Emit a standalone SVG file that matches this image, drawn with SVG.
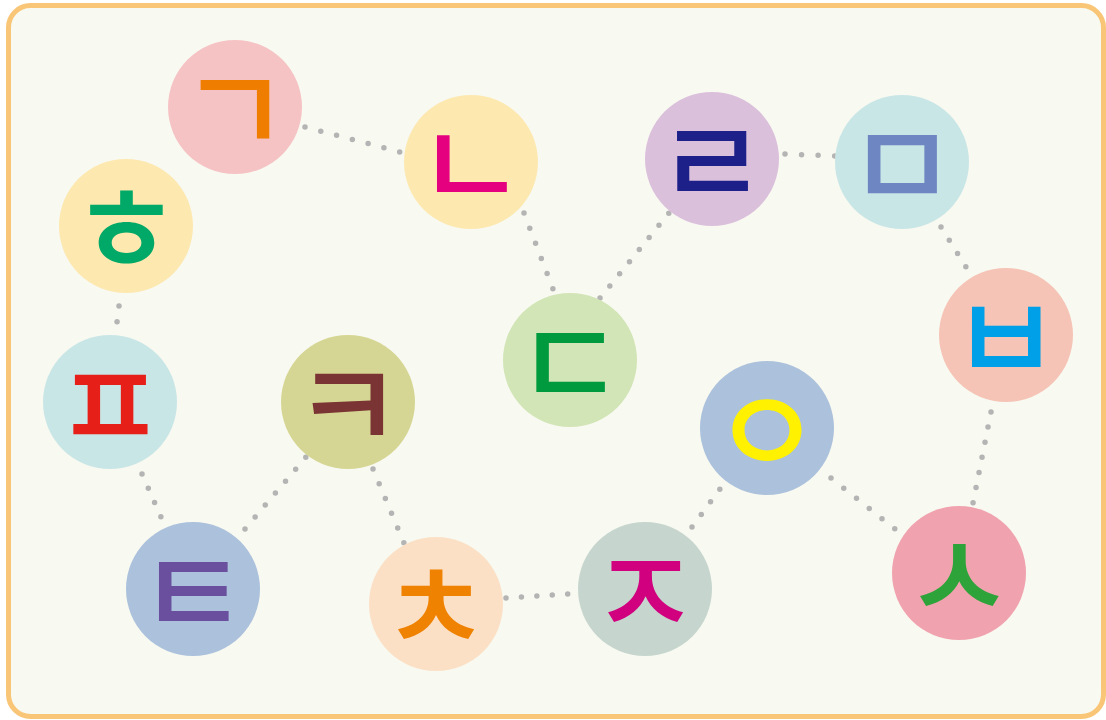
<svg xmlns="http://www.w3.org/2000/svg" width="1106" height="720" viewBox="0 0 1106 720">
<style>
.bg{fill:#f8f9f0;stroke:#f9c678;stroke-width:5}
.dot{fill:none;stroke:#b4b4b4;stroke-width:5.5;stroke-linecap:round;stroke-dasharray:0 1}
.j{font-family:"Noto Sans CJK KR","Noto Sans CJK SC",sans-serif;font-weight:500;font-size:120px;text-anchor:middle}
</style>
<rect class="bg" x="8.5" y="5.5" width="1095" height="711" rx="22"/>
<g id="connectors">
<path class="dot" pathLength="6.02" d="M305,127 L400,152"/>
<path class="dot" pathLength="5.02" d="M524,213 L553,289"/>
<path class="dot" pathLength="7.02" d="M600,298 L669,213"/>
<path class="dot" pathLength="3.02" d="M785,154 L835,156"/>
<path class="dot" pathLength="3.02" d="M941,227 L966,267"/>
<path class="dot" pathLength="1.02" d="M119,306 L117,322"/>
<path class="dot" pathLength="3.02" d="M142,474 L161,517"/>
<path class="dot" pathLength="6.02" d="M245,529 L306,457"/>
<path class="dot" pathLength="5.02" d="M373,469 L404,543"/>
<path class="dot" pathLength="4.02" d="M506,598 L568,594"/>
<path class="dot" pathLength="3.02" d="M692,527 L720,489"/>
<path class="dot" pathLength="5.02" d="M831,478 L895,529"/>
<path class="dot" pathLength="6.02" d="M991,412 L973,503"/>
</g>
<g id="n-giyeok"><circle cx="235" cy="107" r="67" fill="#f6c3c5"/><text class="j" x="235" y="155" fill="#ef7d00">ㄱ</text></g>
<g id="n-nieun"><circle cx="471" cy="162" r="67" fill="#fde8b0"/><text class="j" x="471" y="210" fill="#e4007f">ㄴ</text></g>
<g id="n-digeut"><circle cx="570" cy="360" r="67" fill="#d2e5b6"/><text class="j" x="570" y="408" fill="#009a3e">ㄷ</text></g>
<g id="n-rieul"><circle cx="712" cy="159" r="67" fill="#dbc0dc"/><text class="j" x="712" y="207" fill="#1d2088">ㄹ</text></g>
<g id="n-mieum"><circle cx="902" cy="162" r="67" fill="#c9e6e6"/><text class="j" x="902" y="210" fill="#6e86c2">ㅁ</text></g>
<g id="n-bieup"><circle cx="1006" cy="335" r="67" fill="#f5c4b6"/><text class="j" x="1006" y="383" fill="#00a0e9">ㅂ</text></g>
<g id="n-siot"><circle cx="959" cy="573" r="67" fill="#f0a3af"/><text class="j" x="959" y="621" fill="#2ea33a">ㅅ</text></g>
<g id="n-ieung"><circle cx="767" cy="428" r="67" fill="#abc1dc"/><text class="j" x="767" y="476" fill="#fff100">ㅇ</text></g>
<g id="n-jieut"><circle cx="645" cy="589" r="67" fill="#c6d6ce"/><text class="j" x="645" y="637" fill="#d0007f">ㅈ</text></g>
<g id="n-chieut"><circle cx="436" cy="604" r="67" fill="#fbe0c6"/><text class="j" x="436" y="652" fill="#ef8200">ㅊ</text></g>
<g id="n-kieuk"><circle cx="348" cy="402" r="67" fill="#d6d694"/><text class="j" x="348" y="450" fill="#7a3434">ㅋ</text></g>
<g id="n-tieut"><circle cx="193" cy="589" r="67" fill="#abc1dc"/><text class="j" x="193" y="637" fill="#6a4f9e">ㅌ</text></g>
<g id="n-pieup"><circle cx="110" cy="402" r="67" fill="#c9e6e6"/><text class="j" x="110" y="450" fill="#e61f19">ㅍ</text></g>
<g id="n-hieut"><circle cx="126" cy="226" r="67" fill="#fde8b0"/><text class="j" x="126" y="274" fill="#00a968">ㅎ</text></g>
</svg>
